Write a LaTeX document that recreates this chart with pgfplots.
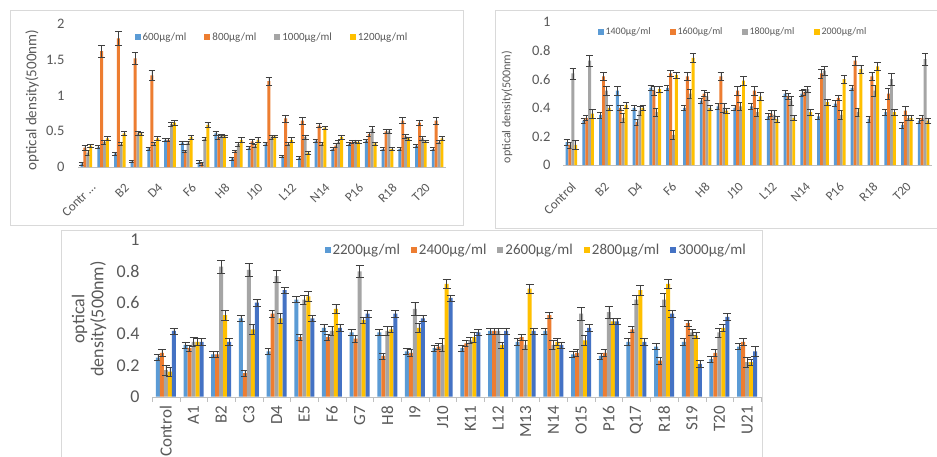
\documentclass[border=0pt]{standalone}
\usepackage{fontspec}
\setmainfont{Carlito}
\usepackage{pgfplots}
\usepackage{pgfplotstable}
\pgfplotsset{compat=1.18}
\definecolor{cA}{HTML}{5B9BD5}
\definecolor{cB}{HTML}{ED7D31}
\definecolor{cC}{HTML}{A5A5A5}
\definecolor{cD}{HTML}{FFC000}
\definecolor{cE}{HTML}{4472C4}
\definecolor{txt}{HTML}{595959}
\definecolor{frm}{HTML}{D9D9D9}
\definecolor{axl}{HTML}{BFBFBF}
\definecolor{ebc}{HTML}{404040}

\pgfplotstableread{
x a ea b eb c ec d ed
0 0.05 0.02 0.27 0.03 0.20 0.03 0.30 0.02
1 0.28 0.02 1.62 0.08 0.35 0.03 0.40 0.03
2 0.19 0.02 1.80 0.10 0.32 0.02 0.47 0.03
3 0.08 0.02 1.52 0.08 0.47 0.03 0.47 0.02
4 0.26 0.02 1.28 0.07 0.33 0.02 0.40 0.03
5 0.38 0.02 0.38 0.02 0.60 0.03 0.62 0.03
6 0.34 0.02 0.22 0.02 0.34 0.02 0.42 0.03
7 0.07 0.02 0.05 0.02 0.39 0.02 0.59 0.03
8 0.47 0.03 0.42 0.03 0.44 0.02 0.43 0.02
9 0.12 0.02 0.22 0.02 0.32 0.03 0.38 0.03
10 0.27 0.02 0.36 0.03 0.30 0.02 0.38 0.03
11 0.33 0.02 1.20 0.06 0.42 0.03 0.43 0.02
12 0.15 0.02 0.68 0.05 0.32 0.02 0.38 0.03
13 0.13 0.02 0.65 0.05 0.42 0.03 0.20 0.02
14 0.37 0.02 0.58 0.03 0.32 0.02 0.55 0.02
15 0.25 0.02 0.30 0.03 0.35 0.02 0.42 0.03
16 0.32 0.02 0.35 0.02 0.36 0.02 0.35 0.02
17 0.37 0.02 0.46 0.03 0.53 0.04 0.33 0.02
18 0.25 0.02 0.50 0.03 0.50 0.03 0.25 0.02
19 0.25 0.02 0.65 0.04 0.43 0.03 0.40 0.02
20 0.30 0.02 0.62 0.04 0.40 0.03 0.36 0.02
21 0.25 0.02 0.65 0.05 0.35 0.02 0.40 0.03
}\tl

\pgfplotstableread{
x a ea b eb c ec d ed
0 0.16 0.02 0.14 0.02 0.64 0.04 0.14 0.03
1 0.31 0.02 0.33 0.02 0.73 0.04 0.36 0.03
2 0.35 0.02 0.62 0.03 0.52 0.03 0.40 0.02
3 0.52 0.03 0.40 0.02 0.33 0.03 0.42 0.02
4 0.40 0.02 0.30 0.02 0.38 0.03 0.40 0.02
5 0.54 0.02 0.52 0.03 0.37 0.03 0.53 0.02
6 0.54 0.02 0.64 0.02 0.21 0.03 0.63 0.02
7 0.40 0.02 0.62 0.03 0.50 0.03 0.75 0.03
8 0.45 0.02 0.50 0.02 0.48 0.03 0.40 0.02
9 0.41 0.02 0.62 0.03 0.40 0.03 0.38 0.02
10 0.40 0.02 0.52 0.03 0.41 0.03 0.59 0.03
11 0.41 0.02 0.52 0.03 0.37 0.03 0.48 0.03
12 0.34 0.02 0.36 0.02 0.35 0.03 0.32 0.02
13 0.50 0.02 0.48 0.02 0.45 0.03 0.33 0.02
14 0.50 0.02 0.51 0.02 0.53 0.02 0.37 0.02
15 0.34 0.02 0.64 0.03 0.66 0.03 0.44 0.02
16 0.43 0.02 0.47 0.02 0.35 0.03 0.60 0.03
17 0.54 0.02 0.73 0.03 0.37 0.03 0.67 0.03
18 0.32 0.02 0.62 0.03 0.52 0.04 0.69 0.03
19 0.37 0.02 0.50 0.04 0.60 0.04 0.37 0.02
20 0.28 0.02 0.38 0.03 0.33 0.02 0.33 0.02
21 0.31 0.02 0.33 0.02 0.74 0.04 0.31 0.02
}\tr

\pgfplotstableread{
x a ea b eb c ec d ed e ee
0 0.25 0.02 0.28 0.02 0.17 0.03 0.16 0.03 0.42 0.02
1 0.33 0.02 0.31 0.02 0.35 0.03 0.35 0.02 0.35 0.02
2 0.27 0.02 0.27 0.02 0.83 0.04 0.52 0.03 0.35 0.02
3 0.50 0.02 0.15 0.02 0.81 0.04 0.43 0.03 0.60 0.02
4 0.29 0.02 0.53 0.02 0.77 0.04 0.50 0.03 0.68 0.02
5 0.62 0.02 0.38 0.02 0.62 0.03 0.64 0.03 0.50 0.02
6 0.44 0.02 0.38 0.02 0.42 0.03 0.56 0.03 0.44 0.02
7 0.41 0.02 0.37 0.02 0.80 0.04 0.49 0.02 0.53 0.02
8 0.41 0.02 0.26 0.02 0.42 0.03 0.43 0.02 0.53 0.02
9 0.29 0.02 0.28 0.02 0.56 0.04 0.44 0.03 0.50 0.02
10 0.31 0.02 0.32 0.02 0.33 0.04 0.72 0.03 0.63 0.02
11 0.31 0.02 0.34 0.02 0.36 0.02 0.38 0.03 0.41 0.02
12 0.42 0.02 0.42 0.02 0.42 0.02 0.33 0.02 0.42 0.02
13 0.35 0.02 0.38 0.02 0.33 0.03 0.69 0.03 0.42 0.02
14 0.42 0.02 0.52 0.02 0.33 0.03 0.35 0.02 0.33 0.02
15 0.27 0.02 0.28 0.02 0.53 0.04 0.36 0.03 0.44 0.02
16 0.26 0.02 0.28 0.02 0.54 0.04 0.48 0.02 0.48 0.02
17 0.35 0.02 0.43 0.02 0.62 0.03 0.68 0.03 0.35 0.02
18 0.32 0.02 0.23 0.02 0.62 0.04 0.72 0.03 0.53 0.02
19 0.35 0.02 0.47 0.02 0.41 0.02 0.39 0.02 0.21 0.02
20 0.24 0.02 0.28 0.02 0.41 0.03 0.44 0.02 0.51 0.02
21 0.32 0.02 0.35 0.02 0.22 0.03 0.22 0.02 0.29 0.03
}\bt

\pgfplotsset{
  mybar/.style={
    scale only axis, ybar=0pt, ymin=0, xmin=-0.5, xmax=21.5,
    axis lines*=left,
    y axis line style={draw=none},
    x axis line style={draw=axl},
    ytick style={draw=none}, xtick style={draw=none},
    tick label style={text=txt},
    /pgf/number format/assume math mode=true,
    legend style={draw=none, fill=none, text=txt, legend columns=-1},
    legend image code/.code={\fill[##1] (0pt,-0.3em) rectangle (0.6em,0.3em);},
    clip=false,
    error bars/y dir=both, error bars/y explicit,
    error bars/error bar style={ebc, line width=0.5pt},
  },
}

\begin{document}
\begin{tikzpicture}
\useasboundingbox (0,0) rectangle (937pt,456pt);
\fill[white] (0,0) rectangle (937pt,456pt);
\draw[frm] (10pt,231pt) rectangle (463pt,446pt);
\draw[frm] (495pt,228pt) rectangle (950pt,446pt);
\draw[frm] (61.5pt,-5pt) rectangle (762pt,226pt);

% top-left
\begin{axis}[mybar, at={(78pt,289pt)}, anchor=south west,
  width=368pt, height=143pt, ymax=2, ytick={0,0.5,...,2},
  bar width=2.9pt,
  error bars/error mark options={rotate=90, ebc, mark size=3.3pt, line width=0.5pt},
  yticklabel style={font=\fontsize{14.5}{16}\selectfont, xshift=-10pt},
  xtick={0,2,...,20},
  xticklabels={Contr …,B2,D4,F6,H8,J10,L12,N14,P16,R18,T20},
  xticklabel style={font=\fontsize{13}{15}\selectfont, xshift=4pt, yshift=-11pt, rotate=45, anchor=north east, inner sep=0pt},
  legend style={at={(axis description cs:0.145,0.909)}, anchor=west,
    font=\fontsize{11}{13}\selectfont,
    /tikz/every even column/.append style={column sep=16pt}},
]
\addplot[fill=cA, draw=none] table[x=x, y=a, y error=ea]{\tl};
\addplot[fill=cB, draw=none] table[x=x, y=b, y error=eb]{\tl};
\addplot[fill=cC, draw=none] table[x=x, y=c, y error=ec]{\tl};
\addplot[fill=cD, draw=none] table[x=x, y=d, y error=ed]{\tl};
\legend{600μg/ml,800μg/ml,1000μg/ml,1200μg/ml}
\end{axis}

% top-right
\begin{axis}[mybar, at={(563pt,291pt)}, anchor=south west,
  width=369pt, height=143pt, ymax=1, ytick={0,0.2,...,1},
  bar width=2.9pt,
  error bars/error mark options={rotate=90, ebc, mark size=3.3pt, line width=0.5pt},
  yticklabel style={font=\fontsize{14.5}{16}\selectfont, xshift=-9pt},
  xtick={0,2,...,20},
  xticklabels={Control,B2,D4,F6,H8,J10,L12,N14,P16,R18,T20},
  xticklabel style={font=\fontsize{13}{15}\selectfont, xshift=-1pt, yshift=-12pt, rotate=45, anchor=north east, inner sep=0pt},
  legend style={at={(axis description cs:0.085,0.93)}, anchor=west,
    font=\fontsize{10}{12}\selectfont,
    /tikz/every even column/.append style={column sep=17pt}},
]
\addplot[fill=cA, draw=none] table[x=x, y=a, y error=ea]{\tr};
\addplot[fill=cB, draw=none] table[x=x, y=b, y error=eb]{\tr};
\addplot[fill=cC, draw=none] table[x=x, y=c, y error=ec]{\tr};
\addplot[fill=cD, draw=none] table[x=x, y=d, y error=ed]{\tr};
\legend{1400μg/ml,1600μg/ml,1800μg/ml,2000μg/ml}
\end{axis}

% bottom
\begin{axis}[mybar, at={(152pt,59.3pt)}, anchor=south west,
  width=609pt, height=156.7pt, ymax=1, ytick={0,0.2,...,1},
  bar width=4pt,
  error bars/error mark options={rotate=90, ebc, mark size=4pt, line width=0.5pt},
  yticklabel style={font=\fontsize{18}{20}\selectfont, xshift=-9pt},
  xtick={0,...,21},
  xticklabels={Control,A1,B2,C3,D4,E5,F6,G7,H8,I9,J10,K11,L12,M13,N14,O15,P16,Q17,R18,S19,T20,U21},
  xticklabel style={font=\fontsize{17}{19}\selectfont, yshift=-7pt, rotate=90, anchor=east, inner sep=2pt},
  major tick length=0pt,
  minor xtick={-0.5,0.5,...,21.5},
  minor tick length=5pt, xtick align=outside,
  minor x tick style={draw=axl},
  legend style={at={(axis description cs:0.278,0.936)}, anchor=west,
    font=\fontsize{15}{17}\selectfont,
    /tikz/every even column/.append style={column sep=9pt}},
]
\addplot[fill=cA, draw=none] table[x=x, y=a, y error=ea]{\bt};
\addplot[fill=cB, draw=none] table[x=x, y=b, y error=eb]{\bt};
\addplot[fill=cC, draw=none] table[x=x, y=c, y error=ec]{\bt};
\addplot[fill=cD, draw=none] table[x=x, y=d, y error=ed]{\bt};
\addplot[fill=cE, draw=none] table[x=x, y=e, y error=ee]{\bt};
\legend{2200μg/ml,2400μg/ml,2600μg/ml,2800μg/ml,3000μg/ml}
\end{axis}

\node[rotate=90, text=txt, font=\fontsize{15}{18}\selectfont] at (32pt,356pt) {optical density(500nm)};
\node[rotate=90, text=txt, font=\fontsize{12}{14}\selectfont] at (507pt,349pt) {optical density(500nm)};
\node[rotate=90, text=txt, align=center, font=\fontsize{18}{19}\selectfont] at (89pt,137pt) {optical\\density(500nm)};
\end{tikzpicture}
\end{document}
